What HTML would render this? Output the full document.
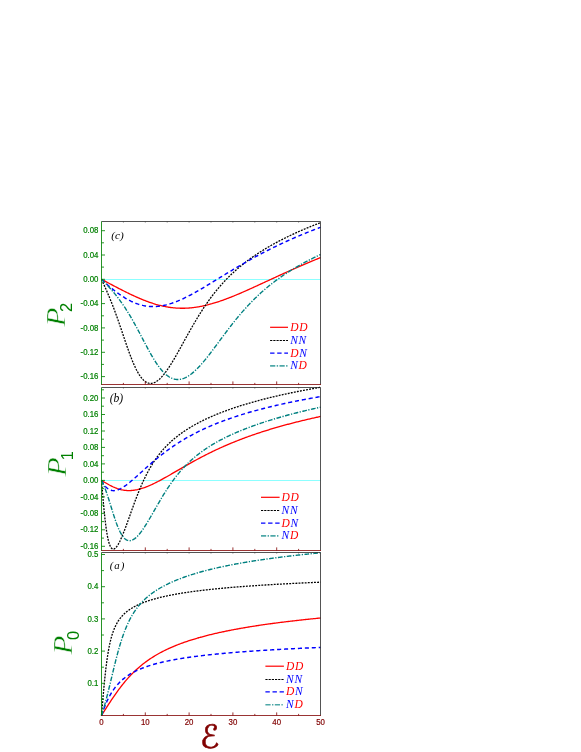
<!DOCTYPE html>
<html><head><meta charset="utf-8"><title>Polarization</title>
<style>html,body{margin:0;padding:0;background:#fff}svg{display:block}.yt{font-family:"Liberation Sans",Arial,sans-serif;font-size:8.7px;fill:#008000;stroke:#008000;stroke-width:0.2px;text-anchor:end}.xt{font-family:"Liberation Sans",Arial,sans-serif;font-size:8.7px;fill:#800000;stroke:#800000;stroke-width:0.2px;text-anchor:middle}.it{font-family:"Liberation Serif","Times New Roman",serif;font-style:italic}.lg{font-size:11.5px;letter-spacing:0.7px}.pl{fill:#000}.P{font-size:27px;fill:#008000;stroke:#fff;stroke-width:0.45px}.sub{font-family:"Liberation Sans",Arial,sans-serif;font-size:16.5px;fill:#008000}.E{font-family:"DejaVu Sans",sans-serif;font-size:32px;fill:#800000;stroke:#800000;stroke-width:0.6px;text-anchor:middle}</style></head><body>

<svg width="581" height="752" viewBox="0 0 581 752">
<rect width="581" height="752" fill="#fff"/>
<g>
<line x1="101.5" y1="279.5" x2="320.5" y2="279.5" stroke="#8cffff" stroke-width="1"/>
<polyline fill="none" stroke="#ff0000" stroke-width="1.3" points="101.50,279.30 102.38,279.77 103.25,280.24 104.13,280.70 105.00,281.17 105.88,281.64 106.76,282.10 107.63,282.57 108.51,283.04 109.38,283.50 110.26,283.97 111.14,284.43 112.01,284.89 112.89,285.35 113.76,285.81 114.64,286.27 115.52,286.73 116.39,287.19 117.27,287.64 118.14,288.10 119.02,288.55 119.90,289.00 120.77,289.45 121.65,289.90 122.52,290.34 123.40,290.78 124.28,291.22 125.15,291.66 126.03,292.09 126.90,292.53 127.78,292.95 128.66,293.38 129.53,293.80 130.41,294.22 131.28,294.64 132.16,295.05 133.04,295.46 133.91,295.87 134.79,296.27 135.66,296.66 136.54,297.06 137.42,297.45 138.29,297.83 139.17,298.21 140.04,298.58 140.92,298.95 141.80,299.31 142.67,299.67 143.55,300.03 144.42,300.37 145.30,300.71 146.18,301.05 147.05,301.38 147.93,301.70 148.80,302.02 149.68,302.33 150.56,302.63 151.43,302.93 152.31,303.22 153.18,303.50 154.06,303.78 154.94,304.04 155.81,304.31 156.69,304.56 157.56,304.80 158.44,305.04 159.32,305.27 160.19,305.49 161.07,305.71 161.94,305.91 162.82,306.11 163.70,306.30 164.57,306.48 165.45,306.65 166.32,306.82 167.20,306.97 168.08,307.12 168.95,307.25 169.83,307.38 170.70,307.50 171.58,307.62 172.46,307.72 173.33,307.81 174.21,307.90 175.08,307.97 175.96,308.04 176.84,308.10 177.71,308.15 178.59,308.19 179.46,308.22 180.34,308.25 181.22,308.26 182.09,308.27 182.97,308.26 183.84,308.25 184.72,308.23 185.60,308.20 186.47,308.16 187.35,308.12 188.22,308.06 189.10,308.00 189.98,307.93 190.85,307.85 191.73,307.77 192.60,307.67 193.48,307.57 194.36,307.46 195.23,307.34 196.11,307.21 196.98,307.08 197.86,306.93 198.74,306.78 199.61,306.63 200.49,306.46 201.36,306.29 202.24,306.12 203.12,305.93 203.99,305.74 204.87,305.54 205.74,305.34 206.62,305.12 207.50,304.91 208.37,304.68 209.25,304.45 210.12,304.22 211.00,303.97 211.88,303.73 212.75,303.47 213.63,303.21 214.50,302.95 215.38,302.68 216.26,302.40 217.13,302.12 218.01,301.84 218.88,301.55 219.76,301.25 220.64,300.95 221.51,300.65 222.39,300.34 223.26,300.03 224.14,299.71 225.02,299.39 225.89,299.06 226.77,298.73 227.64,298.40 228.52,298.06 229.40,297.72 230.27,297.38 231.15,297.03 232.02,296.68 232.90,296.33 233.78,295.98 234.65,295.62 235.53,295.26 236.40,294.89 237.28,294.52 238.16,294.15 239.03,293.78 239.91,293.41 240.78,293.03 241.66,292.65 242.54,292.27 243.41,291.89 244.29,291.51 245.16,291.12 246.04,290.73 246.92,290.34 247.79,289.95 248.67,289.56 249.54,289.17 250.42,288.77 251.30,288.38 252.17,287.98 253.05,287.58 253.92,287.18 254.80,286.78 255.68,286.38 256.55,285.98 257.43,285.58 258.30,285.18 259.18,284.77 260.06,284.37 260.93,283.96 261.81,283.56 262.68,283.16 263.56,282.75 264.44,282.34 265.31,281.94 266.19,281.53 267.06,281.13 267.94,280.72 268.82,280.32 269.69,279.91 270.57,279.50 271.44,279.10 272.32,278.69 273.20,278.29 274.07,277.88 274.95,277.48 275.82,277.08 276.70,276.67 277.58,276.27 278.45,275.87 279.33,275.46 280.20,275.06 281.08,274.66 281.96,274.26 282.83,273.86 283.71,273.46 284.58,273.07 285.46,272.67 286.34,272.27 287.21,271.88 288.09,271.48 288.96,271.09 289.84,270.69 290.72,270.30 291.59,269.91 292.47,269.52 293.34,269.13 294.22,268.74 295.10,268.36 295.97,267.97 296.85,267.58 297.72,267.20 298.60,266.82 299.48,266.43 300.35,266.05 301.23,265.67 302.10,265.30 302.98,264.92 303.86,264.54 304.73,264.17 305.61,263.79 306.48,263.42 307.36,263.05 308.24,262.68 309.11,262.31 309.99,261.94 310.86,261.57 311.74,261.21 312.62,260.84 313.49,260.48 314.37,260.12 315.24,259.76 316.12,259.40 317.00,259.04 317.87,258.68 318.75,258.33 319.62,257.97 320.50,257.62"/>
<polyline fill="none" stroke="#000000" stroke-width="1.3" stroke-dasharray="1.9 1.2" points="101.50,279.30 102.38,281.24 103.25,283.19 104.13,285.14 105.00,287.11 105.88,289.10 106.76,291.10 107.63,293.13 108.51,295.20 109.38,297.29 110.26,299.42 111.14,301.58 112.01,303.79 112.89,306.04 113.76,308.32 114.64,310.65 115.52,313.02 116.39,315.43 117.27,317.88 118.14,320.36 119.02,322.88 119.90,325.42 120.77,327.98 121.65,330.56 122.52,333.16 123.40,335.76 124.28,338.35 125.15,340.93 126.03,343.50 126.90,346.04 127.78,348.54 128.66,351.00 129.53,353.41 130.41,355.76 131.28,358.04 132.16,360.25 133.04,362.38 133.91,364.42 134.79,366.38 135.66,368.23 136.54,369.99 137.42,371.64 138.29,373.19 139.17,374.62 140.04,375.95 140.92,377.17 141.80,378.27 142.67,379.27 143.55,380.15 144.42,380.92 145.30,381.59 146.18,382.14 147.05,382.59 147.93,382.94 148.80,383.19 149.68,383.34 150.56,383.39 151.43,383.35 152.31,383.22 153.18,383.00 154.06,382.70 154.94,382.31 155.81,381.85 156.69,381.30 157.56,380.69 158.44,380.01 159.32,379.25 160.19,378.44 161.07,377.56 161.94,376.62 162.82,375.63 163.70,374.58 164.57,373.48 165.45,372.34 166.32,371.15 167.20,369.91 168.08,368.64 168.95,367.33 169.83,365.99 170.70,364.61 171.58,363.20 172.46,361.77 173.33,360.31 174.21,358.83 175.08,357.33 175.96,355.81 176.84,354.27 177.71,352.72 178.59,351.16 179.46,349.59 180.34,348.01 181.22,346.42 182.09,344.83 182.97,343.24 183.84,341.65 184.72,340.05 185.60,338.46 186.47,336.88 187.35,335.29 188.22,333.72 189.10,332.15 189.98,330.59 190.85,329.04 191.73,327.50 192.60,325.97 193.48,324.46 194.36,322.96 195.23,321.47 196.11,319.99 196.98,318.53 197.86,317.09 198.74,315.66 199.61,314.25 200.49,312.85 201.36,311.48 202.24,310.11 203.12,308.77 203.99,307.44 204.87,306.14 205.74,304.85 206.62,303.57 207.50,302.32 208.37,301.08 209.25,299.86 210.12,298.66 211.00,297.47 211.88,296.30 212.75,295.15 213.63,294.02 214.50,292.90 215.38,291.80 216.26,290.72 217.13,289.65 218.01,288.60 218.88,287.57 219.76,286.55 220.64,285.54 221.51,284.55 222.39,283.58 223.26,282.62 224.14,281.67 225.02,280.74 225.89,279.82 226.77,278.91 227.64,278.02 228.52,277.14 229.40,276.27 230.27,275.42 231.15,274.58 232.02,273.74 232.90,272.93 233.78,272.12 234.65,271.32 235.53,270.53 236.40,269.76 237.28,268.99 238.16,268.24 239.03,267.49 239.91,266.76 240.78,266.03 241.66,265.32 242.54,264.61 243.41,263.91 244.29,263.22 245.16,262.54 246.04,261.87 246.92,261.20 247.79,260.54 248.67,259.89 249.54,259.25 250.42,258.62 251.30,257.99 252.17,257.37 253.05,256.76 253.92,256.15 254.80,255.55 255.68,254.96 256.55,254.37 257.43,253.79 258.30,253.21 259.18,252.64 260.06,252.08 260.93,251.52 261.81,250.97 262.68,250.43 263.56,249.88 264.44,249.35 265.31,248.82 266.19,248.29 267.06,247.77 267.94,247.26 268.82,246.74 269.69,246.24 270.57,245.74 271.44,245.24 272.32,244.75 273.20,244.26 274.07,243.77 274.95,243.29 275.82,242.82 276.70,242.34 277.58,241.88 278.45,241.41 279.33,240.95 280.20,240.49 281.08,240.04 281.96,239.59 282.83,239.15 283.71,238.70 284.58,238.26 285.46,237.83 286.34,237.40 287.21,236.97 288.09,236.54 288.96,236.12 289.84,235.70 290.72,235.28 291.59,234.87 292.47,234.46 293.34,234.05 294.22,233.65 295.10,233.24 295.97,232.84 296.85,232.45 297.72,232.05 298.60,231.66 299.48,231.27 300.35,230.89 301.23,230.50 302.10,230.12 302.98,229.75 303.86,229.37 304.73,229.00 305.61,228.63 306.48,228.26 307.36,227.89 308.24,227.53 309.11,227.16 309.99,226.80 310.86,226.45 311.74,226.09 312.62,225.74 313.49,225.39 314.37,225.04 315.24,224.69 316.12,224.35 317.00,224.01 317.87,223.66 318.75,223.33 319.62,222.99 320.50,222.65"/>
<polyline fill="none" stroke="#0000ff" stroke-width="1.45" stroke-dasharray="4.1 2.85" points="101.50,279.30 102.38,280.14 103.25,280.97 104.13,281.79 105.00,282.59 105.88,283.39 106.76,284.17 107.63,284.95 108.51,285.71 109.38,286.46 110.26,287.20 111.14,287.93 112.01,288.65 112.89,289.36 113.76,290.05 114.64,290.74 115.52,291.41 116.39,292.07 117.27,292.72 118.14,293.36 119.02,293.99 119.90,294.60 120.77,295.20 121.65,295.79 122.52,296.37 123.40,296.93 124.28,297.47 125.15,298.01 126.03,298.53 126.90,299.03 127.78,299.52 128.66,300.00 129.53,300.46 130.41,300.90 131.28,301.33 132.16,301.74 133.04,302.14 133.91,302.52 134.79,302.88 135.66,303.23 136.54,303.56 137.42,303.87 138.29,304.17 139.17,304.45 140.04,304.71 140.92,304.96 141.80,305.19 142.67,305.40 143.55,305.59 144.42,305.77 145.30,305.93 146.18,306.07 147.05,306.20 147.93,306.30 148.80,306.39 149.68,306.47 150.56,306.53 151.43,306.57 152.31,306.59 153.18,306.60 154.06,306.59 154.94,306.56 155.81,306.52 156.69,306.47 157.56,306.40 158.44,306.31 159.32,306.21 160.19,306.09 161.07,305.96 161.94,305.81 162.82,305.66 163.70,305.48 164.57,305.30 165.45,305.10 166.32,304.88 167.20,304.66 168.08,304.42 168.95,304.17 169.83,303.91 170.70,303.63 171.58,303.35 172.46,303.05 173.33,302.74 174.21,302.43 175.08,302.10 175.96,301.76 176.84,301.41 177.71,301.06 178.59,300.69 179.46,300.32 180.34,299.93 181.22,299.54 182.09,299.14 182.97,298.74 183.84,298.32 184.72,297.90 185.60,297.47 186.47,297.04 187.35,296.60 188.22,296.15 189.10,295.69 189.98,295.24 190.85,294.77 191.73,294.30 192.60,293.83 193.48,293.35 194.36,292.86 195.23,292.37 196.11,291.88 196.98,291.39 197.86,290.89 198.74,290.38 199.61,289.87 200.49,289.37 201.36,288.85 202.24,288.34 203.12,287.82 203.99,287.30 204.87,286.78 205.74,286.25 206.62,285.73 207.50,285.20 208.37,284.67 209.25,284.14 210.12,283.61 211.00,283.07 211.88,282.54 212.75,282.00 213.63,281.47 214.50,280.93 215.38,280.39 216.26,279.86 217.13,279.32 218.01,278.78 218.88,278.25 219.76,277.71 220.64,277.17 221.51,276.64 222.39,276.10 223.26,275.57 224.14,275.03 225.02,274.50 225.89,273.96 226.77,273.43 227.64,272.90 228.52,272.37 229.40,271.84 230.27,271.31 231.15,270.78 232.02,270.26 232.90,269.73 233.78,269.21 234.65,268.69 235.53,268.17 236.40,267.65 237.28,267.13 238.16,266.62 239.03,266.10 239.91,265.59 240.78,265.08 241.66,264.57 242.54,264.07 243.41,263.56 244.29,263.06 245.16,262.56 246.04,262.06 246.92,261.56 247.79,261.07 248.67,260.57 249.54,260.08 250.42,259.59 251.30,259.11 252.17,258.62 253.05,258.14 253.92,257.66 254.80,257.18 255.68,256.70 256.55,256.23 257.43,255.76 258.30,255.29 259.18,254.82 260.06,254.36 260.93,253.89 261.81,253.43 262.68,252.97 263.56,252.52 264.44,252.06 265.31,251.61 266.19,251.16 267.06,250.72 267.94,250.27 268.82,249.83 269.69,249.39 270.57,248.95 271.44,248.51 272.32,248.08 273.20,247.65 274.07,247.22 274.95,246.79 275.82,246.36 276.70,245.94 277.58,245.52 278.45,245.10 279.33,244.68 280.20,244.27 281.08,243.86 281.96,243.45 282.83,243.04 283.71,242.63 284.58,242.23 285.46,241.83 286.34,241.43 287.21,241.03 288.09,240.63 288.96,240.24 289.84,239.85 290.72,239.46 291.59,239.07 292.47,238.69 293.34,238.31 294.22,237.92 295.10,237.54 295.97,237.17 296.85,236.79 297.72,236.42 298.60,236.05 299.48,235.68 300.35,235.31 301.23,234.94 302.10,234.58 302.98,234.22 303.86,233.86 304.73,233.50 305.61,233.14 306.48,232.79 307.36,232.44 308.24,232.09 309.11,231.74 309.99,231.39 310.86,231.05 311.74,230.70 312.62,230.36 313.49,230.02 314.37,229.68 315.24,229.34 316.12,229.01 317.00,228.68 317.87,228.34 318.75,228.01 319.62,227.69 320.50,227.36"/>
<polyline fill="none" stroke="#008080" stroke-width="1.4" stroke-dasharray="4.7 1.5 1.2 1.5" points="101.50,279.30 102.38,280.15 103.25,281.02 104.13,281.90 105.00,282.79 105.88,283.69 106.76,284.61 107.63,285.54 108.51,286.49 109.38,287.45 110.26,288.43 111.14,289.42 112.01,290.43 112.89,291.46 113.76,292.50 114.64,293.57 115.52,294.65 116.39,295.75 117.27,296.88 118.14,298.02 119.02,299.19 119.90,300.37 120.77,301.58 121.65,302.81 122.52,304.07 123.40,305.35 124.28,306.65 125.15,307.98 126.03,309.33 126.90,310.71 127.78,312.11 128.66,313.53 129.53,314.98 130.41,316.45 131.28,317.94 132.16,319.46 133.04,320.99 133.91,322.55 134.79,324.13 135.66,325.72 136.54,327.33 137.42,328.95 138.29,330.59 139.17,332.24 140.04,333.89 140.92,335.56 141.80,337.22 142.67,338.89 143.55,340.56 144.42,342.23 145.30,343.89 146.18,345.53 147.05,347.17 147.93,348.80 148.80,350.40 149.68,351.98 150.56,353.55 151.43,355.08 152.31,356.58 153.18,358.06 154.06,359.50 154.94,360.90 155.81,362.26 156.69,363.58 157.56,364.86 158.44,366.09 159.32,367.27 160.19,368.40 161.07,369.49 161.94,370.52 162.82,371.49 163.70,372.42 164.57,373.28 165.45,374.10 166.32,374.85 167.20,375.55 168.08,376.19 168.95,376.77 169.83,377.30 170.70,377.77 171.58,378.18 172.46,378.54 173.33,378.84 174.21,379.08 175.08,379.27 175.96,379.41 176.84,379.49 177.71,379.52 178.59,379.49 179.46,379.42 180.34,379.29 181.22,379.12 182.09,378.90 182.97,378.63 183.84,378.32 184.72,377.96 185.60,377.55 186.47,377.11 187.35,376.62 188.22,376.09 189.10,375.53 189.98,374.93 190.85,374.29 191.73,373.61 192.60,372.90 193.48,372.16 194.36,371.39 195.23,370.59 196.11,369.75 196.98,368.89 197.86,368.01 198.74,367.10 199.61,366.16 200.49,365.20 201.36,364.22 202.24,363.22 203.12,362.20 203.99,361.16 204.87,360.11 205.74,359.04 206.62,357.95 207.50,356.85 208.37,355.74 209.25,354.62 210.12,353.49 211.00,352.34 211.88,351.19 212.75,350.04 213.63,348.87 214.50,347.70 215.38,346.53 216.26,345.35 217.13,344.17 218.01,342.99 218.88,341.81 219.76,340.62 220.64,339.44 221.51,338.26 222.39,337.08 223.26,335.90 224.14,334.73 225.02,333.56 225.89,332.40 226.77,331.24 227.64,330.08 228.52,328.93 229.40,327.79 230.27,326.66 231.15,325.53 232.02,324.41 232.90,323.29 233.78,322.19 234.65,321.09 235.53,320.01 236.40,318.93 237.28,317.86 238.16,316.80 239.03,315.75 239.91,314.71 240.78,313.68 241.66,312.66 242.54,311.65 243.41,310.65 244.29,309.66 245.16,308.68 246.04,307.72 246.92,306.76 247.79,305.81 248.67,304.87 249.54,303.95 250.42,303.03 251.30,302.13 252.17,301.23 253.05,300.34 253.92,299.47 254.80,298.60 255.68,297.75 256.55,296.91 257.43,296.07 258.30,295.24 259.18,294.43 260.06,293.62 260.93,292.83 261.81,292.04 262.68,291.26 263.56,290.49 264.44,289.73 265.31,288.98 266.19,288.24 267.06,287.51 267.94,286.78 268.82,286.06 269.69,285.36 270.57,284.66 271.44,283.96 272.32,283.28 273.20,282.60 274.07,281.93 274.95,281.27 275.82,280.62 276.70,279.97 277.58,279.33 278.45,278.70 279.33,278.07 280.20,277.45 281.08,276.84 281.96,276.23 282.83,275.63 283.71,275.04 284.58,274.45 285.46,273.87 286.34,273.30 287.21,272.73 288.09,272.16 288.96,271.60 289.84,271.05 290.72,270.51 291.59,269.96 292.47,269.43 293.34,268.90 294.22,268.37 295.10,267.85 295.97,267.33 296.85,266.82 297.72,266.31 298.60,265.81 299.48,265.31 300.35,264.82 301.23,264.33 302.10,263.85 302.98,263.37 303.86,262.89 304.73,262.42 305.61,261.95 306.48,261.48 307.36,261.02 308.24,260.57 309.11,260.11 309.99,259.67 310.86,259.22 311.74,258.78 312.62,258.34 313.49,257.90 314.37,257.47 315.24,257.04 316.12,256.62 317.00,256.20 317.87,255.78 318.75,255.36 319.62,254.95 320.50,254.54"/>
<path d="M101.5 221.5H320.5V384.5" fill="none" stroke="#1a1a1a" stroke-width="0.75"/>
<path d="M123.4 221.5v1.2M145.3 221.5v1.2M167.2 221.5v1.2M189.1 221.5v1.2M211.0 221.5v1.2M232.9 221.5v1.2M254.8 221.5v1.2M276.7 221.5v1.2M298.6 221.5v1.2" stroke="#222" stroke-width="1" opacity="0.45" fill="none"/>
<path d="M101.0 384.5H321.0M123.4 384.5v-1.6M145.3 384.5v-3.1M167.2 384.5v-1.6M189.1 384.5v-3.1M211.0 384.5v-1.6M232.9 384.5v-3.1M254.8 384.5v-1.6M276.7 384.5v-3.1M298.6 384.5v-1.6" stroke="#800000" stroke-width="0.8" fill="none"/>
<path d="M101.5 221.5V384.5M101.5 376.6h3.5M101.5 352.3h3.5M101.5 327.9h3.5M101.5 303.6h3.5M101.5 279.3h3.5M101.5 255.0h3.5M101.5 230.7h3.5M101.5 364.4h2.5M101.5 340.1h2.5M101.5 315.8h2.5M101.5 291.5h2.5M101.5 267.1h2.5M101.5 242.8h2.5" stroke="#008000" stroke-width="0.85" fill="none"/>
<text class="yt" transform="translate(98.4,379.2) scale(0.9,1)">-0.16</text>
<text class="yt" transform="translate(98.4,354.9) scale(0.9,1)">-0.12</text>
<text class="yt" transform="translate(98.4,330.5) scale(0.9,1)">-0.08</text>
<text class="yt" transform="translate(98.4,306.2) scale(0.9,1)">-0.04</text>
<text class="yt" transform="translate(98.4,281.9) scale(0.9,1)">0.00</text>
<text class="yt" transform="translate(98.4,257.6) scale(0.9,1)">0.04</text>
<text class="yt" transform="translate(98.4,233.3) scale(0.9,1)">0.08</text>
<text class="it pl" x="111.3" y="238.9" style="font-size:11.2px">(c)</text>
<text class="it P" transform="translate(65.3,326.5) rotate(-90) scale(1.15,1)">P</text>
<text class="sub" transform="translate(71.6,312.0) rotate(-90)">2</text>
<line x1="270.1" y1="327.3" x2="288.0" y2="327.3" stroke="#ff0000" stroke-width="1.2"/>
<text class="it lg" x="290.2" y="330.8"><tspan fill="#ff0000">D</tspan><tspan fill="#ff0000">D</tspan></text>
<line x1="270.1" y1="340.5" x2="288.0" y2="340.5" stroke="#000" stroke-width="1" stroke-dasharray="2.2 1"/>
<text class="it lg" x="290.2" y="343.7"><tspan fill="#0000ff">N</tspan><tspan fill="#0000ff">N</tspan></text>
<line x1="270.1" y1="353.0" x2="288.0" y2="353.0" stroke="#0000ff" stroke-width="1.25" stroke-dasharray="4.4 2.7"/>
<text class="it lg" x="290.2" y="356.5"><tspan fill="#ff0000">D</tspan><tspan fill="#0000ff">N</tspan></text>
<line x1="270.1" y1="365.9" x2="288.0" y2="365.9" stroke="#4fa8a8" stroke-width="1.6" stroke-dasharray="5.2 1.4 1.4 1.4"/>
<text class="it lg" x="290.2" y="369.4"><tspan fill="#0000ff">N</tspan><tspan fill="#ff0000">D</tspan></text>
</g>
<g>
<line x1="101.5" y1="480.5" x2="320.5" y2="480.5" stroke="#8cffff" stroke-width="1"/>
<polyline fill="none" stroke="#ff0000" stroke-width="1.3" points="101.50,480.40 102.38,480.93 103.25,481.46 104.13,481.99 105.00,482.51 105.88,483.03 106.76,483.53 107.63,484.03 108.51,484.52 109.38,485.00 110.26,485.46 111.14,485.90 112.01,486.33 112.89,486.75 113.76,487.14 114.64,487.52 115.52,487.88 116.39,488.21 117.27,488.53 118.14,488.82 119.02,489.10 119.90,489.34 120.77,489.57 121.65,489.77 122.52,489.96 123.40,490.11 124.28,490.25 125.15,490.36 126.03,490.44 126.90,490.51 127.78,490.55 128.66,490.57 129.53,490.57 130.41,490.55 131.28,490.50 132.16,490.43 133.04,490.35 133.91,490.24 134.79,490.12 135.66,489.97 136.54,489.81 137.42,489.63 138.29,489.43 139.17,489.21 140.04,488.98 140.92,488.73 141.80,488.47 142.67,488.19 143.55,487.90 144.42,487.59 145.30,487.27 146.18,486.94 147.05,486.60 147.93,486.24 148.80,485.87 149.68,485.50 150.56,485.11 151.43,484.72 152.31,484.31 153.18,483.90 154.06,483.47 154.94,483.04 155.81,482.61 156.69,482.16 157.56,481.71 158.44,481.26 159.32,480.80 160.19,480.33 161.07,479.86 161.94,479.38 162.82,478.90 163.70,478.42 164.57,477.93 165.45,477.44 166.32,476.94 167.20,476.45 168.08,475.95 168.95,475.45 169.83,474.94 170.70,474.44 171.58,473.93 172.46,473.43 173.33,472.92 174.21,472.41 175.08,471.90 175.96,471.39 176.84,470.89 177.71,470.38 178.59,469.87 179.46,469.36 180.34,468.85 181.22,468.35 182.09,467.84 182.97,467.34 183.84,466.83 184.72,466.33 185.60,465.83 186.47,465.33 187.35,464.84 188.22,464.34 189.10,463.85 189.98,463.36 190.85,462.87 191.73,462.38 192.60,461.90 193.48,461.41 194.36,460.93 195.23,460.45 196.11,459.98 196.98,459.50 197.86,459.03 198.74,458.57 199.61,458.10 200.49,457.64 201.36,457.18 202.24,456.72 203.12,456.26 203.99,455.81 204.87,455.36 205.74,454.92 206.62,454.47 207.50,454.03 208.37,453.60 209.25,453.16 210.12,452.73 211.00,452.30 211.88,451.87 212.75,451.45 213.63,451.03 214.50,450.61 215.38,450.20 216.26,449.78 217.13,449.37 218.01,448.97 218.88,448.57 219.76,448.16 220.64,447.77 221.51,447.37 222.39,446.98 223.26,446.59 224.14,446.20 225.02,445.82 225.89,445.44 226.77,445.06 227.64,444.69 228.52,444.31 229.40,443.94 230.27,443.58 231.15,443.21 232.02,442.85 232.90,442.49 233.78,442.13 234.65,441.78 235.53,441.43 236.40,441.08 237.28,440.73 238.16,440.39 239.03,440.05 239.91,439.71 240.78,439.37 241.66,439.04 242.54,438.70 243.41,438.37 244.29,438.05 245.16,437.72 246.04,437.40 246.92,437.08 247.79,436.76 248.67,436.45 249.54,436.13 250.42,435.82 251.30,435.51 252.17,435.21 253.05,434.90 253.92,434.60 254.80,434.30 255.68,434.00 256.55,433.70 257.43,433.41 258.30,433.12 259.18,432.83 260.06,432.54 260.93,432.25 261.81,431.97 262.68,431.69 263.56,431.41 264.44,431.13 265.31,430.85 266.19,430.58 267.06,430.30 267.94,430.03 268.82,429.76 269.69,429.49 270.57,429.23 271.44,428.96 272.32,428.70 273.20,428.44 274.07,428.18 274.95,427.92 275.82,427.67 276.70,427.41 277.58,427.16 278.45,426.91 279.33,426.66 280.20,426.41 281.08,426.17 281.96,425.92 282.83,425.68 283.71,425.44 284.58,425.20 285.46,424.96 286.34,424.72 287.21,424.49 288.09,424.25 288.96,424.02 289.84,423.79 290.72,423.56 291.59,423.33 292.47,423.10 293.34,422.88 294.22,422.65 295.10,422.43 295.97,422.21 296.85,421.99 297.72,421.77 298.60,421.55 299.48,421.33 300.35,421.12 301.23,420.90 302.10,420.69 302.98,420.48 303.86,420.27 304.73,420.06 305.61,419.85 306.48,419.64 307.36,419.44 308.24,419.23 309.11,419.03 309.99,418.83 310.86,418.63 311.74,418.43 312.62,418.23 313.49,418.03 314.37,417.83 315.24,417.64 316.12,417.44 317.00,417.25 317.87,417.05 318.75,416.86 319.62,416.67 320.50,416.48"/>
<polyline fill="none" stroke="#000000" stroke-width="1.3" stroke-dasharray="1.9 1.2" points="101.50,480.40 102.38,491.06 103.25,501.29 104.13,510.73 105.00,519.11 105.88,526.33 106.76,532.36 107.63,537.26 108.51,541.13 109.38,544.09 110.26,546.25 111.14,547.74 112.01,548.65 112.89,549.07 113.76,549.06 114.64,548.69 115.52,548.00 116.39,547.05 117.27,545.86 118.14,544.47 119.02,542.90 119.90,541.17 120.77,539.31 121.65,537.33 122.52,535.25 123.40,533.08 124.28,530.84 125.15,528.54 126.03,526.18 126.90,523.78 127.78,521.36 128.66,518.91 129.53,516.46 130.41,514.00 131.28,511.54 132.16,509.10 133.04,506.68 133.91,504.28 134.79,501.90 135.66,499.57 136.54,497.27 137.42,495.01 138.29,492.80 139.17,490.63 140.04,488.51 140.92,486.45 141.80,484.43 142.67,482.47 143.55,480.55 144.42,478.69 145.30,476.88 146.18,475.12 147.05,473.42 147.93,471.76 148.80,470.15 149.68,468.59 150.56,467.07 151.43,465.60 152.31,464.17 153.18,462.79 154.06,461.44 154.94,460.14 155.81,458.87 156.69,457.64 157.56,456.44 158.44,455.28 159.32,454.14 160.19,453.04 161.07,451.97 161.94,450.93 162.82,449.92 163.70,448.93 164.57,447.97 165.45,447.03 166.32,446.12 167.20,445.22 168.08,444.35 168.95,443.50 169.83,442.67 170.70,441.86 171.58,441.06 172.46,440.29 173.33,439.53 174.21,438.78 175.08,438.06 175.96,437.34 176.84,436.64 177.71,435.96 178.59,435.29 179.46,434.63 180.34,433.98 181.22,433.35 182.09,432.73 182.97,432.11 183.84,431.51 184.72,430.92 185.60,430.34 186.47,429.77 187.35,429.21 188.22,428.66 189.10,428.11 189.98,427.58 190.85,427.05 191.73,426.53 192.60,426.02 193.48,425.52 194.36,425.02 195.23,424.53 196.11,424.05 196.98,423.58 197.86,423.11 198.74,422.65 199.61,422.19 200.49,421.74 201.36,421.30 202.24,420.86 203.12,420.43 203.99,420.00 204.87,419.58 205.74,419.16 206.62,418.75 207.50,418.34 208.37,417.94 209.25,417.54 210.12,417.15 211.00,416.76 211.88,416.38 212.75,416.00 213.63,415.62 214.50,415.25 215.38,414.89 216.26,414.52 217.13,414.16 218.01,413.81 218.88,413.46 219.76,413.11 220.64,412.76 221.51,412.42 222.39,412.09 223.26,411.75 224.14,411.42 225.02,411.10 225.89,410.77 226.77,410.45 227.64,410.13 228.52,409.82 229.40,409.51 230.27,409.20 231.15,408.89 232.02,408.59 232.90,408.29 233.78,407.99 234.65,407.69 235.53,407.40 236.40,407.11 237.28,406.83 238.16,406.54 239.03,406.26 239.91,405.98 240.78,405.70 241.66,405.43 242.54,405.15 243.41,404.88 244.29,404.61 245.16,404.35 246.04,404.09 246.92,403.82 247.79,403.56 248.67,403.31 249.54,403.05 250.42,402.80 251.30,402.55 252.17,402.30 253.05,402.05 253.92,401.80 254.80,401.56 255.68,401.32 256.55,401.08 257.43,400.84 258.30,400.61 259.18,400.37 260.06,400.14 260.93,399.91 261.81,399.68 262.68,399.45 263.56,399.22 264.44,399.00 265.31,398.78 266.19,398.56 267.06,398.34 267.94,398.12 268.82,397.90 269.69,397.69 270.57,397.47 271.44,397.26 272.32,397.05 273.20,396.84 274.07,396.63 274.95,396.43 275.82,396.22 276.70,396.02 277.58,395.82 278.45,395.62 279.33,395.42 280.20,395.22 281.08,395.02 281.96,394.83 282.83,394.63 283.71,394.44 284.58,394.25 285.46,394.06 286.34,393.87 287.21,393.68 288.09,393.49 288.96,393.31 289.84,393.12 290.72,392.94 291.59,392.76 292.47,392.57 293.34,392.39 294.22,392.22 295.10,392.04 295.97,391.86 296.85,391.68 297.72,391.51 298.60,391.34 299.48,391.16 300.35,390.99 301.23,390.82 302.10,390.65 302.98,390.48 303.86,390.31 304.73,390.15 305.61,389.98 306.48,389.82 307.36,389.65 308.24,389.49 309.11,389.33 309.99,389.17 310.86,389.01 311.74,388.85 312.62,388.69 313.49,388.53 314.37,388.37 315.24,388.22 316.12,388.06 317.00,387.91 317.87,387.75 318.75,387.60 319.62,387.45 320.50,387.30"/>
<polyline fill="none" stroke="#0000ff" stroke-width="1.45" stroke-dasharray="4.1 2.85" points="101.50,480.40 102.38,482.01 103.25,483.46 104.13,484.76 105.00,485.91 105.88,486.91 106.76,487.78 107.63,488.52 108.51,489.14 109.38,489.64 110.26,490.04 111.14,490.33 112.01,490.52 112.89,490.63 113.76,490.66 114.64,490.61 115.52,490.49 116.39,490.31 117.27,490.06 118.14,489.76 119.02,489.41 119.90,489.02 120.77,488.58 121.65,488.10 122.52,487.59 123.40,487.04 124.28,486.46 125.15,485.86 126.03,485.23 126.90,484.58 127.78,483.91 128.66,483.22 129.53,482.52 130.41,481.80 131.28,481.06 132.16,480.32 133.04,479.57 133.91,478.80 134.79,478.03 135.66,477.26 136.54,476.48 137.42,475.69 138.29,474.91 139.17,474.11 140.04,473.32 140.92,472.53 141.80,471.74 142.67,470.95 143.55,470.15 144.42,469.36 145.30,468.58 146.18,467.79 147.05,467.01 147.93,466.24 148.80,465.46 149.68,464.69 150.56,463.93 151.43,463.17 152.31,462.41 153.18,461.66 154.06,460.92 154.94,460.18 155.81,459.45 156.69,458.73 157.56,458.01 158.44,457.29 159.32,456.59 160.19,455.89 161.07,455.19 161.94,454.51 162.82,453.83 163.70,453.15 164.57,452.49 165.45,451.83 166.32,451.17 167.20,450.53 168.08,449.89 168.95,449.26 169.83,448.63 170.70,448.01 171.58,447.40 172.46,446.79 173.33,446.19 174.21,445.60 175.08,445.02 175.96,444.44 176.84,443.86 177.71,443.30 178.59,442.74 179.46,442.18 180.34,441.64 181.22,441.09 182.09,440.56 182.97,440.03 183.84,439.51 184.72,438.99 185.60,438.48 186.47,437.97 187.35,437.47 188.22,436.97 189.10,436.49 189.98,436.00 190.85,435.52 191.73,435.05 192.60,434.58 193.48,434.12 194.36,433.66 195.23,433.21 196.11,432.76 196.98,432.31 197.86,431.87 198.74,431.44 199.61,431.01 200.49,430.59 201.36,430.17 202.24,429.75 203.12,429.34 203.99,428.93 204.87,428.53 205.74,428.13 206.62,427.73 207.50,427.34 208.37,426.95 209.25,426.57 210.12,426.19 211.00,425.82 211.88,425.45 212.75,425.08 213.63,424.71 214.50,424.35 215.38,423.99 216.26,423.64 217.13,423.29 218.01,422.94 218.88,422.60 219.76,422.26 220.64,421.92 221.51,421.59 222.39,421.25 223.26,420.93 224.14,420.60 225.02,420.28 225.89,419.96 226.77,419.64 227.64,419.33 228.52,419.02 229.40,418.71 230.27,418.41 231.15,418.10 232.02,417.80 232.90,417.51 233.78,417.21 234.65,416.92 235.53,416.63 236.40,416.34 237.28,416.06 238.16,415.77 239.03,415.49 239.91,415.22 240.78,414.94 241.66,414.67 242.54,414.40 243.41,414.13 244.29,413.86 245.16,413.60 246.04,413.34 246.92,413.07 247.79,412.82 248.67,412.56 249.54,412.31 250.42,412.05 251.30,411.80 252.17,411.56 253.05,411.31 253.92,411.06 254.80,410.82 255.68,410.58 256.55,410.34 257.43,410.10 258.30,409.87 259.18,409.63 260.06,409.40 260.93,409.17 261.81,408.94 262.68,408.72 263.56,408.49 264.44,408.27 265.31,408.04 266.19,407.82 267.06,407.60 267.94,407.39 268.82,407.17 269.69,406.96 270.57,406.74 271.44,406.53 272.32,406.32 273.20,406.11 274.07,405.91 274.95,405.70 275.82,405.49 276.70,405.29 277.58,405.09 278.45,404.89 279.33,404.69 280.20,404.49 281.08,404.30 281.96,404.10 282.83,403.91 283.71,403.71 284.58,403.52 285.46,403.33 286.34,403.14 287.21,402.95 288.09,402.77 288.96,402.58 289.84,402.40 290.72,402.21 291.59,402.03 292.47,401.85 293.34,401.67 294.22,401.49 295.10,401.31 295.97,401.14 296.85,400.96 297.72,400.78 298.60,400.61 299.48,400.44 300.35,400.27 301.23,400.10 302.10,399.93 302.98,399.76 303.86,399.59 304.73,399.42 305.61,399.26 306.48,399.09 307.36,398.93 308.24,398.77 309.11,398.60 309.99,398.44 310.86,398.28 311.74,398.12 312.62,397.96 313.49,397.81 314.37,397.65 315.24,397.49 316.12,397.34 317.00,397.18 317.87,397.03 318.75,396.88 319.62,396.73 320.50,396.58"/>
<polyline fill="none" stroke="#008080" stroke-width="1.4" stroke-dasharray="4.7 1.5 1.2 1.5" points="101.50,480.40 102.38,482.16 103.25,484.09 104.13,486.16 105.00,488.38 105.88,490.74 106.76,493.23 107.63,495.83 108.51,498.53 109.38,501.30 110.26,504.12 111.14,506.96 112.01,509.80 112.89,512.62 113.76,515.38 114.64,518.07 115.52,520.66 116.39,523.13 117.27,525.46 118.14,527.64 119.02,529.66 119.90,531.51 120.77,533.19 121.65,534.69 122.52,536.02 123.40,537.16 124.28,538.14 125.15,538.95 126.03,539.60 126.90,540.09 127.78,540.43 128.66,540.63 129.53,540.69 130.41,540.62 131.28,540.43 132.16,540.13 133.04,539.72 133.91,539.20 134.79,538.59 135.66,537.89 136.54,537.10 137.42,536.24 138.29,535.30 139.17,534.29 140.04,533.22 140.92,532.09 141.80,530.91 142.67,529.68 143.55,528.40 144.42,527.08 145.30,525.72 146.18,524.33 147.05,522.91 147.93,521.47 148.80,520.00 149.68,518.51 150.56,517.01 151.43,515.50 152.31,513.98 153.18,512.45 154.06,510.92 154.94,509.38 155.81,507.85 156.69,506.32 157.56,504.80 158.44,503.29 159.32,501.79 160.19,500.30 161.07,498.82 161.94,497.36 162.82,495.91 163.70,494.48 164.57,493.07 165.45,491.68 166.32,490.31 167.20,488.96 168.08,487.63 168.95,486.32 169.83,485.03 170.70,483.77 171.58,482.53 172.46,481.31 173.33,480.11 174.21,478.94 175.08,477.78 175.96,476.65 176.84,475.55 177.71,474.46 178.59,473.40 179.46,472.35 180.34,471.33 181.22,470.33 182.09,469.34 182.97,468.38 183.84,467.44 184.72,466.51 185.60,465.61 186.47,464.72 187.35,463.85 188.22,462.99 189.10,462.16 189.98,461.34 190.85,460.53 191.73,459.74 192.60,458.97 193.48,458.21 194.36,457.46 195.23,456.73 196.11,456.01 196.98,455.30 197.86,454.61 198.74,453.93 199.61,453.26 200.49,452.60 201.36,451.95 202.24,451.31 203.12,450.69 203.99,450.07 204.87,449.47 205.74,448.87 206.62,448.29 207.50,447.71 208.37,447.14 209.25,446.58 210.12,446.03 211.00,445.49 211.88,444.95 212.75,444.43 213.63,443.91 214.50,443.39 215.38,442.89 216.26,442.39 217.13,441.90 218.01,441.41 218.88,440.93 219.76,440.46 220.64,439.99 221.51,439.53 222.39,439.08 223.26,438.63 224.14,438.18 225.02,437.75 225.89,437.31 226.77,436.88 227.64,436.46 228.52,436.04 229.40,435.63 230.27,435.22 231.15,434.82 232.02,434.41 232.90,434.02 233.78,433.63 234.65,433.24 235.53,432.86 236.40,432.48 237.28,432.10 238.16,431.73 239.03,431.36 239.91,431.00 240.78,430.64 241.66,430.28 242.54,429.92 243.41,429.57 244.29,429.23 245.16,428.88 246.04,428.54 246.92,428.20 247.79,427.87 248.67,427.54 249.54,427.21 250.42,426.88 251.30,426.56 252.17,426.24 253.05,425.92 253.92,425.60 254.80,425.29 255.68,424.98 256.55,424.67 257.43,424.37 258.30,424.07 259.18,423.77 260.06,423.47 260.93,423.18 261.81,422.88 262.68,422.59 263.56,422.30 264.44,422.02 265.31,421.73 266.19,421.45 267.06,421.17 267.94,420.90 268.82,420.62 269.69,420.35 270.57,420.08 271.44,419.81 272.32,419.54 273.20,419.27 274.07,419.01 274.95,418.75 275.82,418.49 276.70,418.23 277.58,417.97 278.45,417.72 279.33,417.47 280.20,417.22 281.08,416.97 281.96,416.72 282.83,416.47 283.71,416.23 284.58,415.99 285.46,415.75 286.34,415.51 287.21,415.27 288.09,415.03 288.96,414.80 289.84,414.56 290.72,414.33 291.59,414.10 292.47,413.87 293.34,413.64 294.22,413.42 295.10,413.19 295.97,412.97 296.85,412.75 297.72,412.53 298.60,412.31 299.48,412.09 300.35,411.87 301.23,411.66 302.10,411.44 302.98,411.23 303.86,411.02 304.73,410.81 305.61,410.60 306.48,410.39 307.36,410.18 308.24,409.98 309.11,409.77 309.99,409.57 310.86,409.37 311.74,409.17 312.62,408.97 313.49,408.77 314.37,408.57 315.24,408.37 316.12,408.18 317.00,407.98 317.87,407.79 318.75,407.60 319.62,407.41 320.50,407.22"/>
<path d="M101.5 387.5H320.5V550.5" fill="none" stroke="#1a1a1a" stroke-width="0.75"/>
<path d="M123.4 387.5v1.2M145.3 387.5v1.2M167.2 387.5v1.2M189.1 387.5v1.2M211.0 387.5v1.2M232.9 387.5v1.2M254.8 387.5v1.2M276.7 387.5v1.2M298.6 387.5v1.2" stroke="#222" stroke-width="1" opacity="0.45" fill="none"/>
<path d="M101.0 550.5H321.0M123.4 550.5v-1.6M145.3 550.5v-3.1M167.2 550.5v-1.6M189.1 550.5v-3.1M211.0 550.5v-1.6M232.9 550.5v-3.1M254.8 550.5v-1.6M276.7 550.5v-3.1M298.6 550.5v-1.6" stroke="#800000" stroke-width="0.8" fill="none"/>
<path d="M101.5 387.5V550.5M101.5 546.3h3.5M101.5 529.8h3.5M101.5 513.4h3.5M101.5 496.9h3.5M101.5 480.4h3.5M101.5 463.9h3.5M101.5 447.4h3.5M101.5 431.0h3.5M101.5 414.5h3.5M101.5 398.0h3.5M101.5 538.1h2.5M101.5 521.6h2.5M101.5 505.1h2.5M101.5 488.6h2.5M101.5 472.2h2.5M101.5 455.7h2.5M101.5 439.2h2.5M101.5 422.7h2.5M101.5 406.2h2.5M101.5 389.8h2.5" stroke="#008000" stroke-width="0.85" fill="none"/>
<text class="yt" transform="translate(98.4,548.9) scale(0.9,1)">-0.16</text>
<text class="yt" transform="translate(98.4,532.4) scale(0.9,1)">-0.12</text>
<text class="yt" transform="translate(98.4,516.0) scale(0.9,1)">-0.08</text>
<text class="yt" transform="translate(98.4,499.5) scale(0.9,1)">-0.04</text>
<text class="yt" transform="translate(98.4,483.0) scale(0.9,1)">0.00</text>
<text class="yt" transform="translate(98.4,466.5) scale(0.9,1)">0.04</text>
<text class="yt" transform="translate(98.4,450.0) scale(0.9,1)">0.08</text>
<text class="yt" transform="translate(98.4,433.6) scale(0.9,1)">0.12</text>
<text class="yt" transform="translate(98.4,417.1) scale(0.9,1)">0.16</text>
<text class="yt" transform="translate(98.4,400.6) scale(0.9,1)">0.20</text>
<text class="it pl" x="109.7" y="402.0" style="font-size:11.6px">(b)</text>
<text class="it P" transform="translate(65.8,476.3) rotate(-90) scale(1.15,1)">P</text>
<text class="sub" transform="translate(73.1,460.2) rotate(-90)">1</text>
<line x1="261.0" y1="497.3" x2="279.6" y2="497.3" stroke="#ff0000" stroke-width="1.2"/>
<text class="it lg" x="281.5" y="500.8"><tspan fill="#ff0000">D</tspan><tspan fill="#ff0000">D</tspan></text>
<line x1="261.0" y1="510.5" x2="279.6" y2="510.5" stroke="#000" stroke-width="1" stroke-dasharray="2.2 1"/>
<text class="it lg" x="281.5" y="513.7"><tspan fill="#0000ff">N</tspan><tspan fill="#0000ff">N</tspan></text>
<line x1="261.0" y1="523.0" x2="279.6" y2="523.0" stroke="#0000ff" stroke-width="1.25" stroke-dasharray="4.4 2.7"/>
<text class="it lg" x="281.5" y="526.5"><tspan fill="#ff0000">D</tspan><tspan fill="#0000ff">N</tspan></text>
<line x1="261.0" y1="535.9" x2="279.6" y2="535.9" stroke="#4fa8a8" stroke-width="1.6" stroke-dasharray="5.2 1.4 1.4 1.4"/>
<text class="it lg" x="281.5" y="539.4"><tspan fill="#0000ff">N</tspan><tspan fill="#ff0000">D</tspan></text>
</g>
<g>
<polyline fill="none" stroke="#ff0000" stroke-width="1.3" points="101.50,715.50 102.38,714.11 103.25,712.71 104.13,711.32 105.00,709.93 105.88,708.55 106.76,707.18 107.63,705.81 108.51,704.45 109.38,703.10 110.26,701.77 111.14,700.44 112.01,699.13 112.89,697.83 113.76,696.54 114.64,695.28 115.52,694.02 116.39,692.79 117.27,691.57 118.14,690.37 119.02,689.18 119.90,688.02 120.77,686.87 121.65,685.75 122.52,684.64 123.40,683.55 124.28,682.49 125.15,681.44 126.03,680.41 126.90,679.40 127.78,678.41 128.66,677.43 129.53,676.48 130.41,675.55 131.28,674.63 132.16,673.73 133.04,672.86 133.91,671.99 134.79,671.15 135.66,670.32 136.54,669.51 137.42,668.72 138.29,667.94 139.17,667.18 140.04,666.43 140.92,665.70 141.80,664.99 142.67,664.29 143.55,663.60 144.42,662.92 145.30,662.26 146.18,661.62 147.05,660.98 147.93,660.36 148.80,659.75 149.68,659.15 150.56,658.57 151.43,657.99 152.31,657.43 153.18,656.87 154.06,656.33 154.94,655.80 155.81,655.27 156.69,654.76 157.56,654.26 158.44,653.76 159.32,653.28 160.19,652.80 161.07,652.33 161.94,651.87 162.82,651.41 163.70,650.97 164.57,650.53 165.45,650.10 166.32,649.68 167.20,649.26 168.08,648.85 168.95,648.45 169.83,648.05 170.70,647.66 171.58,647.28 172.46,646.90 173.33,646.53 174.21,646.16 175.08,645.80 175.96,645.45 176.84,645.09 177.71,644.75 178.59,644.41 179.46,644.07 180.34,643.74 181.22,643.42 182.09,643.10 182.97,642.78 183.84,642.47 184.72,642.16 185.60,641.86 186.47,641.56 187.35,641.26 188.22,640.97 189.10,640.68 189.98,640.40 190.85,640.12 191.73,639.84 192.60,639.57 193.48,639.30 194.36,639.03 195.23,638.77 196.11,638.51 196.98,638.25 197.86,638.00 198.74,637.75 199.61,637.50 200.49,637.25 201.36,637.01 202.24,636.77 203.12,636.53 203.99,636.30 204.87,636.07 205.74,635.84 206.62,635.61 207.50,635.39 208.37,635.17 209.25,634.95 210.12,634.73 211.00,634.52 211.88,634.31 212.75,634.10 213.63,633.89 214.50,633.68 215.38,633.48 216.26,633.28 217.13,633.08 218.01,632.88 218.88,632.69 219.76,632.49 220.64,632.30 221.51,632.11 222.39,631.93 223.26,631.74 224.14,631.56 225.02,631.37 225.89,631.19 226.77,631.01 227.64,630.84 228.52,630.66 229.40,630.49 230.27,630.31 231.15,630.14 232.02,629.97 232.90,629.80 233.78,629.64 234.65,629.47 235.53,629.31 236.40,629.15 237.28,628.99 238.16,628.83 239.03,628.67 239.91,628.51 240.78,628.36 241.66,628.20 242.54,628.05 243.41,627.90 244.29,627.75 245.16,627.60 246.04,627.45 246.92,627.30 247.79,627.16 248.67,627.01 249.54,626.87 250.42,626.73 251.30,626.59 252.17,626.45 253.05,626.31 253.92,626.17 254.80,626.03 255.68,625.90 256.55,625.76 257.43,625.63 258.30,625.50 259.18,625.36 260.06,625.23 260.93,625.10 261.81,624.97 262.68,624.85 263.56,624.72 264.44,624.59 265.31,624.47 266.19,624.34 267.06,624.22 267.94,624.10 268.82,623.98 269.69,623.86 270.57,623.74 271.44,623.62 272.32,623.50 273.20,623.38 274.07,623.26 274.95,623.15 275.82,623.03 276.70,622.92 277.58,622.81 278.45,622.69 279.33,622.58 280.20,622.47 281.08,622.36 281.96,622.25 282.83,622.14 283.71,622.03 284.58,621.92 285.46,621.82 286.34,621.71 287.21,621.60 288.09,621.50 288.96,621.39 289.84,621.29 290.72,621.19 291.59,621.08 292.47,620.98 293.34,620.88 294.22,620.78 295.10,620.68 295.97,620.58 296.85,620.48 297.72,620.38 298.60,620.28 299.48,620.19 300.35,620.09 301.23,619.99 302.10,619.90 302.98,619.80 303.86,619.71 304.73,619.62 305.61,619.52 306.48,619.43 307.36,619.34 308.24,619.25 309.11,619.16 309.99,619.06 310.86,618.97 311.74,618.88 312.62,618.80 313.49,618.71 314.37,618.62 315.24,618.53 316.12,618.44 317.00,618.36 317.87,618.27 318.75,618.18 319.62,618.10 320.50,618.01"/>
<polyline fill="none" stroke="#000000" stroke-width="1.3" stroke-dasharray="1.9 1.2" points="101.50,715.50 102.38,704.96 103.25,694.77 104.13,685.19 105.00,676.41 105.88,668.55 106.76,661.60 107.63,655.52 108.51,650.22 109.38,645.62 110.26,641.62 111.14,638.13 112.01,635.06 112.89,632.36 113.76,629.97 114.64,627.84 115.52,625.93 116.39,624.20 117.27,622.64 118.14,621.21 119.02,619.90 119.90,618.69 120.77,617.58 121.65,616.54 122.52,615.57 123.40,614.67 124.28,613.82 125.15,613.02 126.03,612.27 126.90,611.55 127.78,610.88 128.66,610.23 129.53,609.62 130.41,609.03 131.28,608.47 132.16,607.94 133.04,607.42 133.91,606.93 134.79,606.45 135.66,605.99 136.54,605.55 137.42,605.13 138.29,604.71 139.17,604.32 140.04,603.93 140.92,603.56 141.80,603.19 142.67,602.84 143.55,602.50 144.42,602.17 145.30,601.85 146.18,601.53 147.05,601.23 147.93,600.93 148.80,600.64 149.68,600.36 150.56,600.08 151.43,599.81 152.31,599.55 153.18,599.29 154.06,599.04 154.94,598.80 155.81,598.56 156.69,598.32 157.56,598.09 158.44,597.87 159.32,597.65 160.19,597.43 161.07,597.22 161.94,597.01 162.82,596.81 163.70,596.61 164.57,596.41 165.45,596.22 166.32,596.03 167.20,595.84 168.08,595.66 168.95,595.48 169.83,595.31 170.70,595.13 171.58,594.96 172.46,594.80 173.33,594.63 174.21,594.47 175.08,594.31 175.96,594.15 176.84,594.00 177.71,593.85 178.59,593.70 179.46,593.55 180.34,593.40 181.22,593.26 182.09,593.12 182.97,592.98 183.84,592.84 184.72,592.71 185.60,592.58 186.47,592.44 187.35,592.32 188.22,592.19 189.10,592.06 189.98,591.94 190.85,591.81 191.73,591.69 192.60,591.57 193.48,591.46 194.36,591.34 195.23,591.22 196.11,591.11 196.98,591.00 197.86,590.89 198.74,590.78 199.61,590.67 200.49,590.56 201.36,590.46 202.24,590.35 203.12,590.25 203.99,590.15 204.87,590.05 205.74,589.95 206.62,589.85 207.50,589.75 208.37,589.65 209.25,589.56 210.12,589.46 211.00,589.37 211.88,589.28 212.75,589.18 213.63,589.09 214.50,589.00 215.38,588.92 216.26,588.83 217.13,588.74 218.01,588.66 218.88,588.57 219.76,588.49 220.64,588.40 221.51,588.32 222.39,588.24 223.26,588.16 224.14,588.08 225.02,588.00 225.89,587.92 226.77,587.84 227.64,587.76 228.52,587.69 229.40,587.61 230.27,587.53 231.15,587.46 232.02,587.39 232.90,587.31 233.78,587.24 234.65,587.17 235.53,587.10 236.40,587.03 237.28,586.96 238.16,586.89 239.03,586.82 239.91,586.75 240.78,586.68 241.66,586.61 242.54,586.55 243.41,586.48 244.29,586.42 245.16,586.35 246.04,586.29 246.92,586.22 247.79,586.16 248.67,586.10 249.54,586.03 250.42,585.97 251.30,585.91 252.17,585.85 253.05,585.79 253.92,585.73 254.80,585.67 255.68,585.61 256.55,585.55 257.43,585.49 258.30,585.44 259.18,585.38 260.06,585.32 260.93,585.26 261.81,585.21 262.68,585.15 263.56,585.10 264.44,585.04 265.31,584.99 266.19,584.93 267.06,584.88 267.94,584.83 268.82,584.77 269.69,584.72 270.57,584.67 271.44,584.62 272.32,584.57 273.20,584.51 274.07,584.46 274.95,584.41 275.82,584.36 276.70,584.31 277.58,584.26 278.45,584.21 279.33,584.16 280.20,584.12 281.08,584.07 281.96,584.02 282.83,583.97 283.71,583.93 284.58,583.88 285.46,583.83 286.34,583.79 287.21,583.74 288.09,583.69 288.96,583.65 289.84,583.60 290.72,583.56 291.59,583.51 292.47,583.47 293.34,583.42 294.22,583.38 295.10,583.34 295.97,583.29 296.85,583.25 297.72,583.21 298.60,583.16 299.48,583.12 300.35,583.08 301.23,583.04 302.10,583.00 302.98,582.96 303.86,582.91 304.73,582.87 305.61,582.83 306.48,582.79 307.36,582.75 308.24,582.71 309.11,582.67 309.99,582.63 310.86,582.59 311.74,582.55 312.62,582.52 313.49,582.48 314.37,582.44 315.24,582.40 316.12,582.36 317.00,582.32 317.87,582.29 318.75,582.25 319.62,582.21 320.50,582.18"/>
<polyline fill="none" stroke="#0000ff" stroke-width="1.45" stroke-dasharray="4.1 2.85" points="101.50,715.50 102.38,712.90 103.25,710.44 104.13,708.10 105.00,705.88 105.88,703.78 106.76,701.79 107.63,699.92 108.51,698.14 109.38,696.47 110.26,694.88 111.14,693.38 112.01,691.96 112.89,690.62 113.76,689.35 114.64,688.15 115.52,687.00 116.39,685.92 117.27,684.88 118.14,683.90 119.02,682.97 119.90,682.08 120.77,681.23 121.65,680.42 122.52,679.64 123.40,678.90 124.28,678.19 125.15,677.51 126.03,676.85 126.90,676.23 127.78,675.62 128.66,675.04 129.53,674.48 130.41,673.95 131.28,673.43 132.16,672.93 133.04,672.44 133.91,671.98 134.79,671.52 135.66,671.09 136.54,670.66 137.42,670.25 138.29,669.85 139.17,669.47 140.04,669.09 140.92,668.73 141.80,668.38 142.67,668.03 143.55,667.70 144.42,667.37 145.30,667.05 146.18,666.75 147.05,666.44 147.93,666.15 148.80,665.86 149.68,665.58 150.56,665.31 151.43,665.04 152.31,664.78 153.18,664.53 154.06,664.28 154.94,664.03 155.81,663.79 156.69,663.56 157.56,663.33 158.44,663.11 159.32,662.89 160.19,662.67 161.07,662.46 161.94,662.25 162.82,662.05 163.70,661.85 164.57,661.66 165.45,661.46 166.32,661.28 167.20,661.09 168.08,660.91 168.95,660.73 169.83,660.55 170.70,660.38 171.58,660.21 172.46,660.04 173.33,659.88 174.21,659.72 175.08,659.56 175.96,659.40 176.84,659.25 177.71,659.10 178.59,658.95 179.46,658.80 180.34,658.65 181.22,658.51 182.09,658.37 182.97,658.23 183.84,658.09 184.72,657.96 185.60,657.83 186.47,657.70 187.35,657.57 188.22,657.44 189.10,657.31 189.98,657.19 190.85,657.06 191.73,656.94 192.60,656.82 193.48,656.71 194.36,656.59 195.23,656.47 196.11,656.36 196.98,656.25 197.86,656.14 198.74,656.03 199.61,655.92 200.49,655.81 201.36,655.71 202.24,655.60 203.12,655.50 203.99,655.40 204.87,655.30 205.74,655.20 206.62,655.10 207.50,655.00 208.37,654.90 209.25,654.81 210.12,654.71 211.00,654.62 211.88,654.53 212.75,654.44 213.63,654.35 214.50,654.26 215.38,654.17 216.26,654.08 217.13,653.99 218.01,653.91 218.88,653.82 219.76,653.74 220.64,653.65 221.51,653.57 222.39,653.49 223.26,653.41 224.14,653.33 225.02,653.25 225.89,653.17 226.77,653.09 227.64,653.01 228.52,652.94 229.40,652.86 230.27,652.79 231.15,652.71 232.02,652.64 232.90,652.56 233.78,652.49 234.65,652.42 235.53,652.35 236.40,652.28 237.28,652.21 238.16,652.14 239.03,652.07 239.91,652.00 240.78,651.93 241.66,651.87 242.54,651.80 243.41,651.73 244.29,651.67 245.16,651.60 246.04,651.54 246.92,651.47 247.79,651.41 248.67,651.35 249.54,651.28 250.42,651.22 251.30,651.16 252.17,651.10 253.05,651.04 253.92,650.98 254.80,650.92 255.68,650.86 256.55,650.80 257.43,650.74 258.30,650.69 259.18,650.63 260.06,650.57 260.93,650.52 261.81,650.46 262.68,650.40 263.56,650.35 264.44,650.29 265.31,650.24 266.19,650.18 267.06,650.13 267.94,650.08 268.82,650.02 269.69,649.97 270.57,649.92 271.44,649.87 272.32,649.82 273.20,649.76 274.07,649.71 274.95,649.66 275.82,649.61 276.70,649.56 277.58,649.51 278.45,649.46 279.33,649.42 280.20,649.37 281.08,649.32 281.96,649.27 282.83,649.22 283.71,649.18 284.58,649.13 285.46,649.08 286.34,649.04 287.21,648.99 288.09,648.94 288.96,648.90 289.84,648.85 290.72,648.81 291.59,648.76 292.47,648.72 293.34,648.67 294.22,648.63 295.10,648.59 295.97,648.54 296.85,648.50 297.72,648.46 298.60,648.42 299.48,648.37 300.35,648.33 301.23,648.29 302.10,648.25 302.98,648.21 303.86,648.17 304.73,648.12 305.61,648.08 306.48,648.04 307.36,648.00 308.24,647.96 309.11,647.92 309.99,647.88 310.86,647.84 311.74,647.81 312.62,647.77 313.49,647.73 314.37,647.69 315.24,647.65 316.12,647.61 317.00,647.58 317.87,647.54 318.75,647.50 319.62,647.46 320.50,647.43"/>
<polyline fill="none" stroke="#008080" stroke-width="1.4" stroke-dasharray="4.7 1.5 1.2 1.5" points="101.50,715.50 102.38,712.77 103.25,709.92 104.13,706.93 105.00,703.82 105.88,700.60 106.76,697.26 107.63,693.83 108.51,690.32 109.38,686.74 110.26,683.11 111.14,679.45 112.01,675.79 112.89,672.13 113.76,668.50 114.64,664.92 115.52,661.41 116.39,657.98 117.27,654.64 118.14,651.40 119.02,648.28 119.90,645.28 120.77,642.40 121.65,639.65 122.52,637.02 123.40,634.51 124.28,632.12 125.15,629.84 126.03,627.68 126.90,625.63 127.78,623.67 128.66,621.82 129.53,620.05 130.41,618.37 131.28,616.78 132.16,615.25 133.04,613.80 133.91,612.42 134.79,611.10 135.66,609.83 136.54,608.62 137.42,607.46 138.29,606.35 139.17,605.29 140.04,604.26 140.92,603.28 141.80,602.33 142.67,601.41 143.55,600.53 144.42,599.68 145.30,598.86 146.18,598.06 147.05,597.29 147.93,596.54 148.80,595.82 149.68,595.11 150.56,594.43 151.43,593.77 152.31,593.12 153.18,592.50 154.06,591.89 154.94,591.29 155.81,590.71 156.69,590.14 157.56,589.59 158.44,589.05 159.32,588.52 160.19,588.01 161.07,587.50 161.94,587.01 162.82,586.53 163.70,586.06 164.57,585.59 165.45,585.14 166.32,584.69 167.20,584.26 168.08,583.83 168.95,583.41 169.83,583.00 170.70,582.60 171.58,582.20 172.46,581.81 173.33,581.42 174.21,581.05 175.08,580.68 175.96,580.31 176.84,579.95 177.71,579.60 178.59,579.25 179.46,578.91 180.34,578.58 181.22,578.24 182.09,577.92 182.97,577.60 183.84,577.28 184.72,576.97 185.60,576.66 186.47,576.36 187.35,576.06 188.22,575.76 189.10,575.47 189.98,575.19 190.85,574.90 191.73,574.62 192.60,574.35 193.48,574.08 194.36,573.81 195.23,573.54 196.11,573.28 196.98,573.02 197.86,572.77 198.74,572.51 199.61,572.27 200.49,572.02 201.36,571.78 202.24,571.54 203.12,571.30 203.99,571.06 204.87,570.83 205.74,570.60 206.62,570.37 207.50,570.15 208.37,569.93 209.25,569.71 210.12,569.49 211.00,569.28 211.88,569.06 212.75,568.85 213.63,568.65 214.50,568.44 215.38,568.24 216.26,568.03 217.13,567.83 218.01,567.64 218.88,567.44 219.76,567.25 220.64,567.06 221.51,566.87 222.39,566.68 223.26,566.49 224.14,566.31 225.02,566.12 225.89,565.94 226.77,565.76 227.64,565.59 228.52,565.41 229.40,565.24 230.27,565.06 231.15,564.89 232.02,564.72 232.90,564.55 233.78,564.39 234.65,564.22 235.53,564.06 236.40,563.90 237.28,563.74 238.16,563.58 239.03,563.42 239.91,563.26 240.78,563.11 241.66,562.95 242.54,562.80 243.41,562.65 244.29,562.50 245.16,562.35 246.04,562.20 246.92,562.05 247.79,561.91 248.67,561.76 249.54,561.62 250.42,561.48 251.30,561.34 252.17,561.20 253.05,561.06 253.92,560.92 254.80,560.78 255.68,560.65 256.55,560.51 257.43,560.38 258.30,560.25 259.18,560.11 260.06,559.98 260.93,559.85 261.81,559.72 262.68,559.60 263.56,559.47 264.44,559.34 265.31,559.22 266.19,559.09 267.06,558.97 267.94,558.85 268.82,558.73 269.69,558.61 270.57,558.49 271.44,558.37 272.32,558.25 273.20,558.13 274.07,558.01 274.95,557.90 275.82,557.78 276.70,557.67 277.58,557.55 278.45,557.44 279.33,557.33 280.20,557.22 281.08,557.11 281.96,557.00 282.83,556.89 283.71,556.78 284.58,556.67 285.46,556.56 286.34,556.46 287.21,556.35 288.09,556.25 288.96,556.14 289.84,556.04 290.72,555.94 291.59,555.83 292.47,555.73 293.34,555.63 294.22,555.53 295.10,555.43 295.97,555.33 296.85,555.23 297.72,555.13 298.60,555.03 299.48,554.94 300.35,554.84 301.23,554.74 302.10,554.65 302.98,554.55 303.86,554.46 304.73,554.37 305.61,554.27 306.48,554.18 307.36,554.09 308.24,554.00 309.11,553.90 309.99,553.81 310.86,553.72 311.74,553.63 312.62,553.54 313.49,553.46 314.37,553.37 315.24,553.28 316.12,553.19 317.00,553.11 317.87,553.02 318.75,552.93 319.62,552.85 320.50,552.76"/>
<path d="M101.5 552.5H320.5V715.5" fill="none" stroke="#1a1a1a" stroke-width="0.75"/>
<path d="M123.4 552.5v1.2M145.3 552.5v1.2M167.2 552.5v1.2M189.1 552.5v1.2M211.0 552.5v1.2M232.9 552.5v1.2M254.8 552.5v1.2M276.7 552.5v1.2M298.6 552.5v1.2" stroke="#222" stroke-width="1" opacity="0.45" fill="none"/>
<path d="M101.0 715.5H321.0M123.4 715.5v-1.6M145.3 715.5v-3.1M167.2 715.5v-1.6M189.1 715.5v-3.1M211.0 715.5v-1.6M232.9 715.5v-3.1M254.8 715.5v-1.6M276.7 715.5v-3.1M298.6 715.5v-1.6" stroke="#800000" stroke-width="0.8" fill="none"/>
<path d="M101.5 552.5V715.5M101.5 683.3h3.5M101.5 651.1h3.5M101.5 618.9h3.5M101.5 586.7h3.5M101.5 554.5h3.5M101.5 699.4h2.5M101.5 667.2h2.5M101.5 635.0h2.5M101.5 602.8h2.5M101.5 570.6h2.5" stroke="#008000" stroke-width="0.85" fill="none"/>
<text class="yt" transform="translate(98.4,685.9) scale(0.9,1)">0.1</text>
<text class="yt" transform="translate(98.4,653.7) scale(0.9,1)">0.2</text>
<text class="yt" transform="translate(98.4,621.5) scale(0.9,1)">0.3</text>
<text class="yt" transform="translate(98.4,589.3) scale(0.9,1)">0.4</text>
<text class="yt" transform="translate(98.4,557.1) scale(0.9,1)">0.5</text>
<text class="it pl" x="109.7" y="568.8" style="font-size:10.8px;letter-spacing:1px">(a)</text>
<text class="it P" transform="translate(72.2,654.5) rotate(-90) scale(1.15,1)">P</text>
<text class="sub" transform="translate(78.5,640.0) rotate(-90)">0</text>
<line x1="265.4" y1="666.2" x2="283.9" y2="666.2" stroke="#ff0000" stroke-width="1.2"/>
<text class="it lg" x="286.1" y="669.7"><tspan fill="#ff0000">D</tspan><tspan fill="#ff0000">D</tspan></text>
<line x1="265.4" y1="679.5" x2="283.9" y2="679.5" stroke="#000" stroke-width="1" stroke-dasharray="2.2 1"/>
<text class="it lg" x="286.1" y="682.5"><tspan fill="#0000ff">N</tspan><tspan fill="#0000ff">N</tspan></text>
<line x1="265.4" y1="691.9" x2="283.9" y2="691.9" stroke="#0000ff" stroke-width="1.25" stroke-dasharray="4.4 2.7"/>
<text class="it lg" x="286.1" y="695.4"><tspan fill="#ff0000">D</tspan><tspan fill="#0000ff">N</tspan></text>
<line x1="265.4" y1="704.8" x2="283.9" y2="704.8" stroke="#4fa8a8" stroke-width="1.6" stroke-dasharray="5.2 1.4 1.4 1.4"/>
<text class="it lg" x="286.1" y="708.3"><tspan fill="#0000ff">N</tspan><tspan fill="#ff0000">D</tspan></text>
</g>
<text class="xt" transform="translate(101.5,725.4) scale(0.9,1)">0</text>
<text class="xt" transform="translate(145.3,725.4) scale(0.9,1)">10</text>
<text class="xt" transform="translate(189.1,725.4) scale(0.9,1)">20</text>
<text class="xt" transform="translate(232.9,725.4) scale(0.9,1)">30</text>
<text class="xt" transform="translate(276.7,725.4) scale(0.9,1)">40</text>
<text class="xt" transform="translate(320.5,725.4) scale(0.9,1)">50</text>
<text class="E" x="209.8" y="748">&#x2130;</text>
</svg>
</body></html>
